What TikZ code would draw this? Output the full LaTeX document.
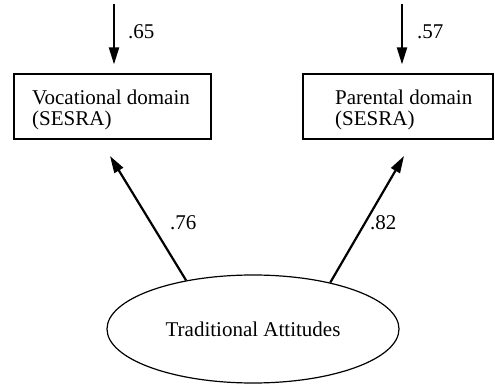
\documentclass[tikz,border=0pt]{standalone}
\usepackage{fontspec}
\setmainfont{Liberation Serif}
\usetikzlibrary{arrows.meta,shapes.geometric}
\begin{document}
\begin{tikzpicture}[x=1pt,y=-1pt,
  every node/.style={font=\fontsize{21}{21.5}\selectfont},
  measure/.style={draw, line width=1.2pt, inner sep=0pt},
  lbl/.style={inner sep=0pt, anchor=base west},
  txt/.style={anchor=base west, align=left, inner sep=0pt},
  path/.style={line width=2.2pt, -{Triangle[length=17pt,width=10pt]}}
]
\useasboundingbox (0,0) rectangle (495,387);

% observed indicators (the base anchor sits on the last line)
\node[measure, minimum width=197pt, minimum height=65pt] (boxL) at (112.5,106.5) {};
\node[txt] (txtL) at (32,126) {Vocational domain\\(SESRA)};
\node[measure, minimum width=190pt, minimum height=65pt] (boxR) at (398,106.5) {};
\node[txt] (txtR) at (335,126) {Parental domain\\(SESRA)};

% latent factor
\node[measure, ellipse, minimum width=292pt, minimum height=108pt] (ell) at (253,329)
  {\raisebox{-3pt}{Traditional Attitudes}};

% residual arrows
\coordinate (eL) at (114,4);
\coordinate (eR) at (402,4);
\draw[path] (eL) -- ([yshift=9pt]boxL.north -| eL);
\draw[path] (eR) -- ([yshift=9pt]boxR.north -| eR);
\node[lbl] (rL) at (128,39) {.65};
\node[lbl] (rR) at (417,39) {.57};

% factor loadings
\coordinate (tL) at (110,156);
\coordinate (tR) at (404,156);
\draw[path] (ell.144) -- (tL);
\draw[path] (ell.31) -- (tR);
\node[lbl] (lL) at (170,230) {.76};
\node[lbl] (lR) at (370,230) {.82};
\end{tikzpicture}
\end{document}
